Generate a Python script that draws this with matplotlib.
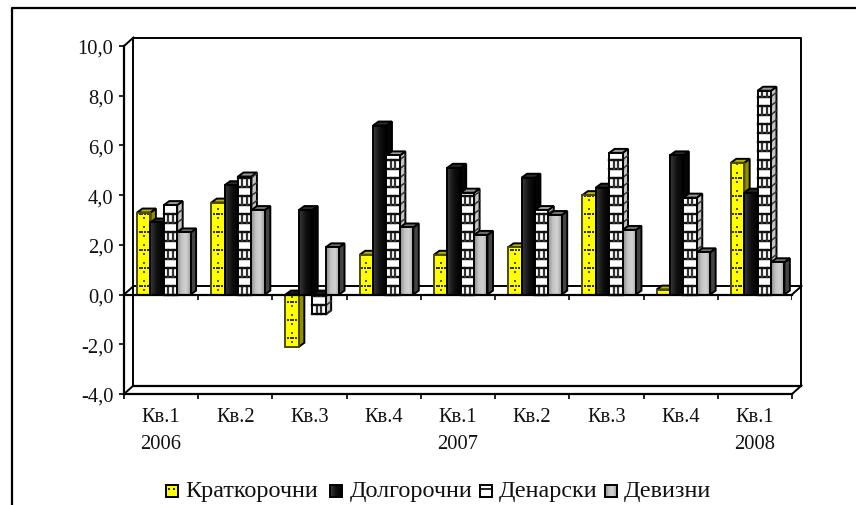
import matplotlib
matplotlib.use('Agg')
import numpy as np
import matplotlib.pyplot as plt
from matplotlib.lines import Line2D
from matplotlib.patches import Polygon, Rectangle

plt.rcParams['font.family'] = ['Liberation Serif', 'DejaVu Serif']

# data
quarters = ['Кв.1\n2006', 'Кв.2', 'Кв.3', 'Кв.4', 'Кв.1\n2007', 'Кв.2', 'Кв.3', 'Кв.4', 'Кв.1\n2008']
short_term = [3.3, 3.7, -2.1, 1.6, 1.6, 1.9, 4.0, 0.2, 5.3]
long_term = [2.9, 4.4, 3.4, 6.8, 5.1, 4.7, 4.3, 5.6, 4.1]
denar = [3.6, 4.75, -0.8, 5.6, 4.1, 3.4, 5.7, 3.9, 8.2]
foreign = [2.5, 3.4, 1.9, 2.7, 2.4, 3.2, 2.6, 1.7, 1.3]
y_ticks = [-4, -2, 0, 2, 4, 6, 8, 10]
y_labels = ['-4,0', '-2,0', '0,0', '2,0', '4,0', '6,0', '8,0', '10,0']
legend_names = ['Краткорочни', 'Долгорочни', 'Денарски', 'Девизни']

W, H = 856, 506
fig = plt.figure(figsize=(W / 100, H / 100), dpi=100)
ax = fig.add_axes([124 / W, 1 - 395 / H, 668 / W, 348 / H])

# pixel sizes in data units
px_x = 9 / 668
px_y = 14 / 348
wall_dx, wall_dy = 9.5 * px_x, 8.5 * px_y
depth_x, depth_y = 5.5 * px_x, 4 * px_y
bar_w = 13.4 * px_x
group_off = 13 * px_x

LW = 1.4

styles = {
    'yellow': dict(grad=['#ffff00', '#ffff00'], top='#b5b500', side='#8f8f00'),
    'black': dict(grad=['#3a3a3a', '#101010', '#000000'], top='#2a2a2a', side='#050505'),
    'brick': dict(grad=['#ffffff', '#ffffff'], top='#999999', side='#c4c4c4'),
    'grey': dict(grad=['#8c8c8c', '#c4c4c4', '#d2d2d2', '#9a9a9a'], top='#6e6e6e', side='#444444'),
}


def hex_rgb(c):
    return [int(c[i:i + 2], 16) / 255 for i in (1, 3, 5)]


def gradient(axis, x0, x1, y0, y1, colors, z):
    rgb = np.array([hex_rgb(c) for c in colors])
    pos = np.linspace(0, 1, len(colors))
    t = np.linspace(0, 1, 32)
    img = np.stack([np.interp(t, pos, rgb[:, k]) for k in range(3)], axis=-1)[None, :, :]
    axis.imshow(img, extent=[x0, x1, y0, y1], aspect='auto', zorder=z, interpolation='bilinear')


def draw_pattern(kind, x0, x1, lo, hi, z):
    if kind == 'brick':
        step = 9 * px_y
        rows = np.arange(lo, hi, step)
        for n, r in enumerate(rows):
            ax.plot([x0, x1], [r, r], color='#111111', lw=1.7, zorder=z)
            # side of the bar carries the same rows
            ax.plot([x1, x1 + depth_x], [r, r + depth_y], color='#333333', lw=1.1, zorder=z - 0.15)
            if n % 2 == 0:
                top = min(r + step, hi)
                for f in (1 / 3, 2 / 3):
                    xf = x0 + f * (x1 - x0)
                    ax.plot([xf, xf], [r, top], color='#333333', lw=1.6, zorder=z)
    elif kind == 'yellow':
        rows = np.arange(lo + 9 * px_y, hi, 18 * px_y)
        xs = x0 + np.array([0.2, 0.4, 0.6, 0.8]) * (x1 - x0)
        for r in rows:
            ax.scatter(xs, [r] * 4, s=4, marker='s', color='#333300', linewidths=0, zorder=z)
        col = np.arange(lo + 4.5 * px_y, hi, 9 * px_y)
        ax.scatter([x0 + 0.5 * (x1 - x0)] * len(col), col, s=2, marker='s',
                   color='#555500', linewidths=0, zorder=z)


def draw_bar(x, value, kind, z):
    st = styles[kind]
    lo, hi = min(0, value), max(0, value)
    x1 = x + bar_w
    # side and top faces first
    ax.add_patch(Polygon([(x1, lo), (x1 + depth_x, lo + depth_y), (x1 + depth_x, hi + depth_y), (x1, hi)],
                         facecolor=st['side'], edgecolor='black', lw=LW, zorder=z))
    ax.add_patch(Polygon([(x, hi), (x + depth_x, hi + depth_y), (x1 + depth_x, hi + depth_y), (x1, hi)],
                         facecolor='#1a1a1a' if value < 0 else st['top'], edgecolor='black', lw=LW, zorder=z))
    gradient(ax, x, x1, lo, hi, st['grad'], z + 0.1)
    draw_pattern(kind, x, x1, lo, hi, z + 0.2)
    edge = '#4a4a00' if kind == 'yellow' else 'black'
    ax.add_patch(Rectangle((x, lo), bar_w, hi - lo, fill=False, edgecolor=edge, lw=LW, zorder=z + 0.3))


# back wall, floor and zero plane
wall_x = [0 + wall_dx, 0 + wall_dx, 9 + wall_dx, 9 + wall_dx]
wall_y = [-4 + wall_dy, 10 + wall_dy, 10 + wall_dy, -4 + wall_dy]
ax.plot(wall_x, wall_y, color='black', lw=LW, zorder=1, clip_on=False)
ax.plot([0 + wall_dx, 9 + wall_dx], [-4 + wall_dy, -4 + wall_dy], color='black', lw=1.6, zorder=1, clip_on=False)
ax.plot([0, wall_dx], [10, 10 + wall_dy], color='black', lw=LW, zorder=1, clip_on=False)
ax.plot([0, wall_dx], [-4, -4 + wall_dy], color='black', lw=LW, zorder=1, clip_on=False)
ax.plot([9, 9 + wall_dx], [-4, -4 + wall_dy], color='black', lw=LW, zorder=1, clip_on=False)
ax.plot([wall_dx, 9 + wall_dx], [wall_dy, wall_dy], color='black', lw=LW, zorder=1, clip_on=False)
ax.plot([0, wall_dx], [0, wall_dy], color='black', lw=LW, zorder=1, clip_on=False)
ax.plot([9, 9 + wall_dx], [0, wall_dy], color='black', lw=LW, zorder=1, clip_on=False)

series = [(short_term, 'yellow'), (long_term, 'black'), (denar, 'brick'), (foreign, 'grey')]
for i in range(len(quarters)):
    for j, (vals, kind) in enumerate(series):
        draw_bar(i + group_off + j * bar_w, vals[i], kind, 3 + j * 0.5 + i * 2)

# zero line and its ticks in front of the bars
ax.plot([0, 9], [0, 0], color='black', lw=1.6, zorder=50, clip_on=False)
ax.vlines(np.arange(10), -5 * px_y, 0, color='black', lw=1.2, zorder=50)

ax.set_xlim(0, 9)
ax.set_ylim(-4, 10)
for s in ('top', 'right'):
    ax.spines[s].set_visible(False)
for s in ('left', 'bottom'):
    ax.spines[s].set_linewidth(1.6)
ax.patch.set_alpha(0)
ax.set_yticks(y_ticks)
ax.set_yticklabels(y_labels, fontsize=14.8, color='#111111')
ax.tick_params(axis='y', length=3.6, width=1.2, pad=4)
ax.set_xticks(np.arange(10))
ax.set_xticklabels([])
ax.tick_params(axis='x', which='major', length=3.6, width=1.2)
ax.set_xticks(np.arange(9) + 0.5, minor=True)
ax.set_xticklabels(quarters, minor=True, fontsize=14.8, color='#111111', linespacing=1.6)
ax.tick_params(axis='x', which='minor', length=0, pad=9)

# outer frame, open on the right and at the bottom
fig.add_artist(Line2D([12 / W, 12 / W, 1], [0, 1 - 9 / H, 1 - 9 / H], color='black', lw=1.6))

# legend, placed by hand to hold the gradient swatches
swatch_x = [166, 330, 480, 605]
text_x = [185, 350, 499, 624]
swatch_kinds = ['yellow', 'black', 'brick', 'grey']
lax = fig.add_axes([0, 0, 1, 1], zorder=5)
lax.set_xlim(0, W)
lax.set_ylim(H, 0)
lax.axis('off')
for sx, tx, name, kind in zip(swatch_x, text_x, legend_names, swatch_kinds):
    colors = styles[kind]['grad']
    gradient(lax, sx, sx + 12, 498, 486, colors, 2)
    if kind == 'yellow':
        lax.scatter([sx + 3.5, sx + 8.5], [490, 490], s=3, marker='s', color='#333300', linewidths=0, zorder=3)
    if kind == 'brick':
        lax.plot([sx, sx + 12], [489.5, 489.5], color='black', lw=1.2, zorder=3)
    lax.add_patch(Rectangle((sx, 486), 12, 12, fill=False, edgecolor='black', lw=1.4, zorder=4))
    lax.text(tx, 491.5, name, fontsize=17.4, va='center', ha='left', color='#111111')
lax.set_xlim(0, W)
lax.set_ylim(H, 0)

fig.savefig('out.png', dpi=100)
